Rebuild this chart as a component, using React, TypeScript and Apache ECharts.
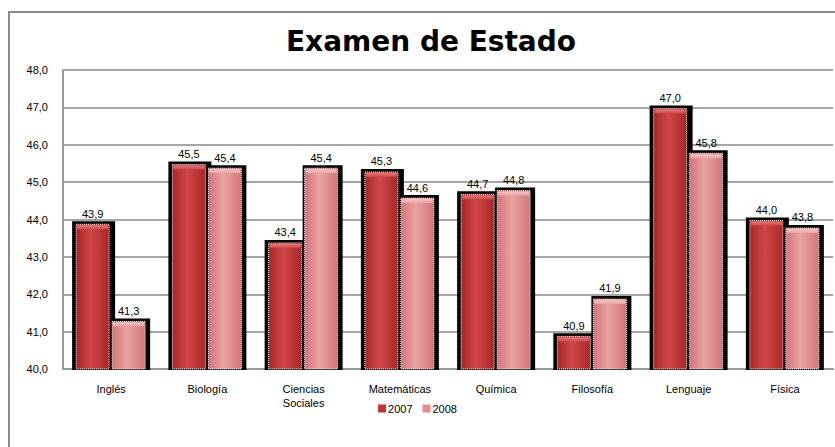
import React, { useEffect, useRef } from "react";
import * as echarts from "echarts";

const CATEGORIES = ["Inglés", "Biología", "Ciencias\nSociales", "Matemáticas", "Química", "Filosofía", "Lenguaje", "Física"];
const SERIES_NAMES = ["2007", "2008"];
const VALUES_2007 = [43.9, 45.5, 43.4, 45.3, 44.7, 40.9, 47.0, 44.0];
const VALUES_2008 = [41.3, 45.4, 45.4, 44.6, 44.8, 41.9, 45.8, 43.8];
const Y_MIN = 40;
const Y_MAX = 48;
const Y_INTERVAL = 1;

const FONT = "'Liberation Sans', Arial, sans-serif";
const fmt = (v: number) => v.toFixed(1).replace(".", ",");

const PALETTE = [
  { edge: "#a82626", mid: "#d04848", top: "#e27a7a", base: "#c23434" },
  { edge: "#d27676", mid: "#eba3a3", top: "#f4c4c4", base: "#e28e8e" },
];

function makeRender(s: number) {
  return (params: any, api: any) => {
    const idx = api.value(0);
    const val = api.value(1);
    const top = api.coord([idx, val]);
    const base = api.coord([idx, Y_MIN]);
    const bw = api.size([1, 0])[0];
    const k = bw / 96.25;
    const c = top[0];
    let x0: number, x1: number, bx0: number, bx1: number;
    if (s === 0) {
      x0 = c - 35 * k; x1 = c - 2 * k; bx0 = c - 39 * k; bx1 = c + 4 * k;
    } else {
      x0 = c + 1 * k; x1 = c + 34 * k; bx0 = c - 1 * k; bx1 = c + 39 * k;
    }
    const yTop = top[1] + 1;
    const yBase = base[1];
    const p = PALETTE[s];
    const fill = new echarts.graphic.LinearGradient(0, 0, 1, 0, [
      { offset: 0, color: p.edge },
      { offset: 0.45, color: p.mid },
      { offset: 1, color: p.edge },
    ]);
    const topFill = new echarts.graphic.LinearGradient(0, 0, 0, 1, [
      { offset: 0, color: p.top },
      { offset: 1, color: p.mid },
    ]);
    return {
      type: "group",
      children: [
        {
          type: "rect",
          shape: { x: bx0, y: yTop - 3, width: bx1 - bx0, height: yBase - yTop + 4 },
          style: { fill: "#000" },
        },
        {
          type: "rect",
          shape: { x: x0, y: yTop, width: x1 - x0, height: yBase - yTop },
          style: { fill, stroke: "#ffffff", lineWidth: 1, lineDash: [1, 1] },
        },
        {
          type: "rect",
          shape: { x: x0 + 1, y: yTop + 1, width: x1 - x0 - 2, height: 4 },
          style: { fill: topFill },
        },
        {
          type: "text",
          style: {
            text: fmt(val),
            x: (x0 + x1) / 2,
            y: yTop - 5,
            align: "center",
            verticalAlign: "bottom",
            fontSize: 11,
            fontFamily: FONT,
            fill: "#000",
          },
        },
      ],
    };
  };
}

export default function App() {
  const ref = useRef<HTMLDivElement>(null);
  useEffect(() => {
    if (!ref.current) return;
    const chart = echarts.init(ref.current, null, { renderer: "svg" });
    chart.setOption({
      animation: false,
      backgroundColor: "#ffffff",
      textStyle: { fontFamily: FONT },
      title: {
        text: "Examen de Estado",
        left: 426,
        top: 22,
        textAlign: "center",
        textStyle: { fontSize: 28, fontWeight: "bold", color: "#000", fontFamily: "'DejaVu Sans', sans-serif" },
      },
      graphic: [
        {
          type: "rect",
          shape: { x: 9, y: 12, width: 900, height: 500 },
          style: { fill: "none", stroke: "#8c8c8c", lineWidth: 2 },
          silent: true,
          z: -1,
        },
      ],
      legend: {
        data: SERIES_NAMES,
        top: 398,
        left: "center",
        itemWidth: 8,
        itemHeight: 8,
        itemGap: 10,
        icon: "rect",
        textStyle: { fontSize: 11, color: "#000", fontFamily: FONT, padding: [0, 0, 0, -3] },
      },
      grid: { left: 63, right: 2, top: 70, bottom: 78 },
      xAxis: {
        type: "category",
        data: CATEGORIES,
        axisLine: { show: true, lineStyle: { color: "#999", width: 2 } },
        axisTick: { show: false },
        axisLabel: { interval: 0, fontSize: 11, color: "#000", margin: 13, lineHeight: 14, fontFamily: FONT },
      },
      yAxis: {
        type: "value",
        min: Y_MIN,
        max: Y_MAX,
        interval: Y_INTERVAL,
        axisLine: { show: true, lineStyle: { color: "#999", width: 2 } },
        axisTick: { show: false },
        axisLabel: { fontSize: 11, color: "#000", margin: 15, formatter: (v: number) => fmt(v), fontFamily: FONT },
        splitLine: { show: true, lineStyle: { color: "#a6a6a6", width: 2 } },
      },
      series: [
        {
          name: SERIES_NAMES[0],
          type: "custom",
          renderItem: makeRender(0),
          itemStyle: { color: PALETTE[0].base },
          encode: { x: 0, y: 1 },
          clip: false,
          data: VALUES_2007.map((v, i) => [i, v]),
        },
        {
          name: SERIES_NAMES[1],
          type: "custom",
          renderItem: makeRender(1),
          itemStyle: { color: PALETTE[1].base },
          encode: { x: 0, y: 1 },
          clip: false,
          data: VALUES_2008.map((v, i) => [i, v]),
        },
      ],
    });
    return () => chart.dispose();
  }, []);
  return <div ref={ref} style={{ position: "fixed", left: 0, top: 0, width: 835, height: 447 }} />;
}
